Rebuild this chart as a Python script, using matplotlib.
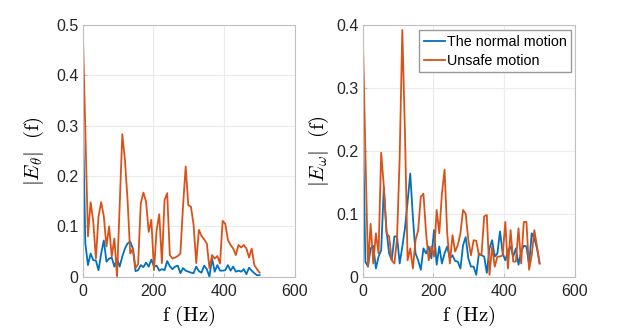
import matplotlib
matplotlib.use('Agg')
import matplotlib.pyplot as plt
import numpy as np
from matplotlib import rcParams

rcParams['font.family'] = 'Liberation Sans'
rcParams['mathtext.fontset'] = 'cm'
rcParams['font.size'] = 11.5

# frequency grid (Hz), 68 bins from 0 to 500
freq = np.linspace(0, 500, 68)

# |E_theta|(f)
theta_normal = [0.338, 0.066, 0.023, 0.046, 0.033, 0.032, 0.013, 0.046, 0.072, 0.030,
                0.036, 0.038, 0.020, 0.036, 0.020, 0.040, 0.056, 0.066, 0.070, 0.056,
                0.011, 0.013, 0.023, 0.019, 0.028, 0.020, 0.034, 0.020, 0.022, 0.012,
                0.015, 0.013, 0.031, 0.021, 0.015, 0.020, 0.022, 0.007, 0.017, 0.012,
                0.010, 0.008, 0.007, 0.020, 0.011, 0.008, 0.022, 0.015, 0.000, 0.036,
                0.010, 0.023, 0.012, 0.012, 0.013, 0.023, 0.012, 0.020, 0.010, 0.012,
                0.010, 0.015, 0.005, 0.018, 0.012, 0.007, 0.003, 0.003]
theta_unsafe = [0.497, 0.290, 0.080, 0.148, 0.110, 0.036, 0.120, 0.148, 0.120, 0.060,
                0.100, 0.040, 0.076, 0.000, 0.140, 0.283, 0.232, 0.152, 0.046, 0.056,
                0.017, 0.025, 0.146, 0.167, 0.149, 0.089, 0.113, 0.013, 0.093, 0.124,
                0.027, 0.152, 0.166, 0.043, 0.036, 0.038, 0.041, 0.046, 0.140, 0.219,
                0.142, 0.139, 0.103, 0.027, 0.093, 0.081, 0.074, 0.066, 0.017, 0.043,
                0.036, 0.041, 0.026, 0.111, 0.105, 0.073, 0.063, 0.056, 0.043, 0.063,
                0.058, 0.063, 0.056, 0.038, 0.056, 0.023, 0.015, 0.008]

# |E_omega|(f)
omega_normal = [0.265, 0.024, 0.016, 0.045, 0.049, 0.013, 0.032, 0.042, 0.142, 0.074,
                0.037, 0.026, 0.064, 0.064, 0.021, 0.048, 0.077, 0.119, 0.164, 0.095,
                0.037, 0.026, 0.011, 0.045, 0.037, 0.048, 0.029, 0.074, 0.019, 0.048,
                0.021, 0.037, 0.048, 0.029, 0.034, 0.025, 0.024, 0.013, 0.050, 0.063,
                0.029, 0.016, 0.016, 0.003, 0.037, 0.034, 0.032, 0.006, 0.045, 0.058,
                0.032, 0.037, 0.072, 0.037, 0.026, 0.041, 0.048, 0.032, 0.045, 0.019,
                0.040, 0.049, 0.048, 0.019, 0.069, 0.061, 0.045, 0.021]
omega_unsafe = [0.393, 0.200, 0.016, 0.084, 0.021, 0.069, 0.037, 0.197, 0.143, 0.069,
                0.064, 0.026, 0.021, 0.061, 0.190, 0.392, 0.228, 0.026, 0.045, 0.013,
                0.058, 0.074, 0.127, 0.132, 0.069, 0.026, 0.048, 0.032, 0.106, 0.069,
                0.132, 0.170, 0.069, 0.021, 0.066, 0.040, 0.050, 0.069, 0.106, 0.100,
                0.058, 0.034, 0.058, 0.057, 0.034, 0.036, 0.096, 0.098, 0.003, 0.048,
                0.016, 0.032, 0.032, 0.034, 0.087, 0.013, 0.074, 0.024, 0.024, 0.077,
                0.021, 0.087, 0.087, 0.011, 0.034, 0.074, 0.048, 0.021]

theta_ticks = [0, 0.1, 0.2, 0.3, 0.4, 0.5]
omega_ticks = [0, 0.1, 0.2, 0.3, 0.4]
x_ticks = [0, 200, 400, 600]

blue = '#0072BD'
orange = '#D95319'

fig = plt.figure(figsize=(6.37, 3.32), dpi=100)
ax1 = fig.add_axes([0.1298, 0.1666, 0.3333, 0.758])
ax2 = fig.add_axes([0.5694, 0.1666, 0.3333, 0.758])

panels = [(ax1, theta_normal, theta_unsafe, theta_ticks, r'$|E_{\theta}|\ \ (\mathrm{f})$', 7),
          (ax2, omega_normal, omega_unsafe, omega_ticks, r'$|E_{\omega}|\ \ (\mathrm{f})$', 4)]

for ax, yn, yu, yt, lab, lp in panels:
    ax.plot(freq, yn, color=blue, linewidth=1.3, label='The normal motion')
    ax.plot(freq, yu, color=orange, linewidth=1.3, label='Unsafe motion')
    ax.set_xlim(0, 600)
    ax.set_ylim(0, yt[-1])
    ax.set_xticks(x_ticks)
    ax.set_xticklabels([str(t) for t in x_ticks])
    ax.set_yticks(yt)
    ax.set_yticklabels(['0'] + [str(t) for t in yt[1:]])
    ax.grid(True, color='#ebebeb', linewidth=0.8)
    ax.set_axisbelow(True)
    for s in ax.spines.values():
        s.set_color('#c0c0c0')
        s.set_linewidth(0.8)
    ax.tick_params(direction='in', length=3, color='#c0c0c0', labelcolor='#262626')
    ax.tick_params(axis='x', pad=5)
    ax.tick_params(axis='y', pad=3)
    ax.set_xlabel(r'$\mathrm{f\ (Hz)}$', fontsize=15, labelpad=4)
    ax.set_ylabel(lab, fontsize=15, labelpad=lp)

ax2.legend(loc='upper right', bbox_to_anchor=(0.99, 0.985), fontsize=10.3, frameon=True, fancybox=False,
           edgecolor='#999999', framealpha=1, handlelength=1.5, handletextpad=0.15,
           borderpad=0.3, labelspacing=0.35, borderaxespad=0.1)

plt.savefig('out.png', dpi=100)
